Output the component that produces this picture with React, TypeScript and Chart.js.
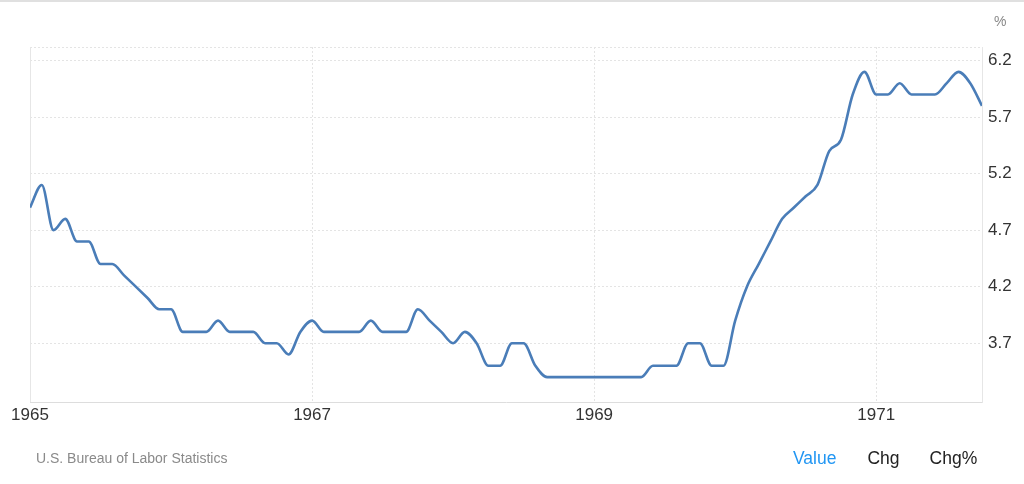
import React, { useEffect, useRef } from "react";
import { Chart, registerables } from "chart.js";

Chart.register(...registerables);

// Monthly US unemployment rate (%), Jan 1965 – Oct 1971
const startYear = 1965;
const rate1965 = [4.9, 5.1, 4.7, 4.8, 4.6, 4.6, 4.4, 4.4, 4.3, 4.2, 4.1, 4.0];
const rate1966 = [4.0, 3.8, 3.8, 3.8, 3.9, 3.8, 3.8, 3.8, 3.7, 3.7, 3.6, 3.8];
const rate1967 = [3.9, 3.8, 3.8, 3.8, 3.8, 3.9, 3.8, 3.8, 3.8, 4.0, 3.9, 3.8];
const rate1968 = [3.7, 3.8, 3.7, 3.5, 3.5, 3.7, 3.7, 3.5, 3.4, 3.4, 3.4, 3.4];
const rate1969 = [3.4, 3.4, 3.4, 3.4, 3.4, 3.5, 3.5, 3.5, 3.7, 3.7, 3.5, 3.5];
const rate1970 = [3.9, 4.2, 4.4, 4.6, 4.8, 4.9, 5.0, 5.1, 5.4, 5.5, 5.9, 6.1];
const rate1971 = [5.9, 5.9, 6.0, 5.9, 5.9, 5.9, 6.0, 6.1, 6.0, 5.8];

const rates = [...rate1965, ...rate1966, ...rate1967, ...rate1968, ...rate1969, ...rate1970, ...rate1971];

const yearTicks = [1965, 1967, 1969, 1971];
const valueTicks = [3.7, 4.2, 4.7, 5.2, 5.7, 6.2];
const yMin = 3.18;
const yMax = 6.32;

const source = "U.S. Bureau of Labor Statistics";
const unit = "%";
const tabs = ["Value", "Chg", "Chg%"];

const FONT = "'Liberation Sans', Arial, sans-serif";

export default function App() {
  const canvasRef = useRef<HTMLCanvasElement | null>(null);

  useEffect(() => {
    const canvas = canvasRef.current;
    if (!canvas) return;
    const points = rates.map((v, i) => ({ x: i, y: v }));
    const lastIndex = rates.length - 1;

    const framePlugin = {
      id: "frame",
      beforeDatasetsDraw(chart: any) {
        const { ctx, chartArea } = chart;
        ctx.save();
        ctx.strokeStyle = "#e6e6e6";
        ctx.lineWidth = 1;
        ctx.setLineDash([]);
        ctx.beginPath();
        ctx.moveTo(chartArea.left + 0.5, chartArea.top);
        ctx.lineTo(chartArea.left + 0.5, chartArea.bottom);
        ctx.stroke();
        ctx.restore();
      },
    };

    const chart = new Chart(canvas, {
      type: "line",
      data: {
        datasets: [
          {
            data: points,
            borderColor: "#4a7db8",
            borderWidth: 2.6,
            pointRadius: 0,
            cubicInterpolationMode: "monotone",
            fill: false,
          },
        ],
      },
      options: {
        animation: false,
        responsive: false,
        maintainAspectRatio: false,
        layout: { padding: { left: 30, top: 47, right: 0, bottom: 0 } },
        plugins: { legend: { display: false }, tooltip: { enabled: false } },
        scales: {
          x: {
            type: "linear",
            min: 0,
            max: lastIndex,
            afterBuildTicks(scale: any) {
              scale.ticks = yearTicks.map((y) => ({ value: (y - startYear) * 12 }));
            },
            afterFit(scale: any) {
              scale.height = 82;
            },
            ticks: {
              autoSkip: false,
              maxRotation: 0,
              padding: 3,
              color: "#333333",
              font: { family: FONT, size: 17 },
              callback: (v: any) => String(startYear + Math.round(Number(v) / 12)),
            },
            grid: {
              drawTicks: false,
              color: "#e4e4e4",
              lineWidth: 1,
            },
            border: { display: true, color: "#dddddd", width: 1, dash: [2, 2] },
          },
          y: {
            position: "right",
            min: yMin,
            max: yMax,
            afterBuildTicks(scale: any) {
              scale.ticks = [...valueTicks.map((v) => ({ value: v })), { value: yMax }];
            },
            afterFit(scale: any) {
              scale.width = 42;
            },
            ticks: {
              autoSkip: false,
              padding: 6,
              crossAlign: "near",
              color: "#333333",
              font: { family: FONT, size: 17 },
              callback: (v: any) => (Number(v) === yMax ? "" : Number(v).toFixed(1)),
            },
            grid: {
              drawTicks: false,
              color: "#e4e4e4",
              lineWidth: 1,
            },
            border: { display: true, color: "#e6e6e6", width: 1, dash: [2, 2] },
          },
        },
      },
      plugins: [framePlugin],
    } as any);

    return () => chart.destroy();
  }, []);

  return (
    <div
      style={{
        position: "fixed",
        left: 0,
        top: 0,
        width: 1024,
        height: 484,
        background: "#ffffff",
        fontFamily: FONT,
        overflow: "hidden",
      }}
    >
      <div style={{ position: "absolute", left: 0, top: 0, width: 1024, height: 2, background: "#e0e0e0" }} />
      <canvas ref={canvasRef} width={1024} height={484} style={{ position: "absolute", left: 0, top: 0 }} />
      <div style={{ position: "absolute", left: 994, top: 13, fontSize: 14, color: "#888888" }}>{unit}</div>
      <div style={{ position: "absolute", left: 36, top: 450, fontSize: 14, color: "#8a8a8a" }}>{source}</div>
      <div style={{ position: "absolute", left: 793, top: 448, fontSize: 17.5, display: "flex", whiteSpace: "nowrap" }}>
        {tabs.map((t, i) => (
          <span
            key={t}
            style={{ color: i === 0 ? "#2196f3" : "#222222", marginRight: i === 0 ? 31 : 30 }}
          >
            {t}
          </span>
        ))}
      </div>
    </div>
  );
}
